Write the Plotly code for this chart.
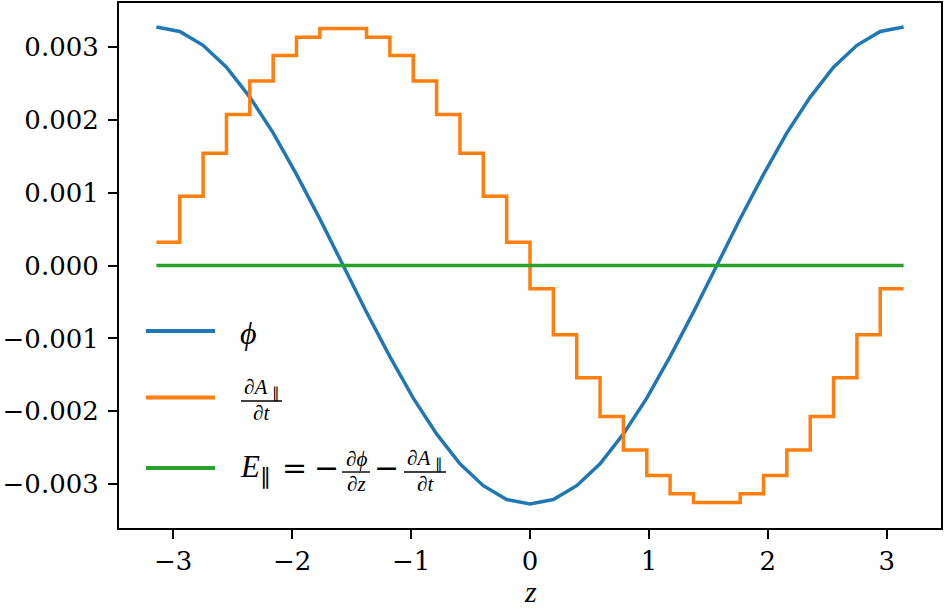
import plotly.graph_objects as go

# z grid (-pi .. pi)
z = [-3.1416, -2.9452, -2.7489, -2.5525, -2.3562, -2.1598, -1.9635, -1.7671,
     -1.5708, -1.3744, -1.1781, -0.9817, -0.7854, -0.5890, -0.3927, -0.1963,
     0.0, 0.1963, 0.3927, 0.5890, 0.7854, 0.9817, 1.1781, 1.3744,
     1.5708, 1.7671, 1.9635, 2.1598, 2.3562, 2.5525, 2.7489, 2.9452, 3.1416]

phi = [0.00327, 0.00321, 0.00302, 0.00272, 0.00231, 0.00182, 0.00125, 0.00064,
       0.0, -0.00064, -0.00125, -0.00182, -0.00231, -0.00272, -0.00302, -0.00321,
       -0.00327, -0.00321, -0.00302, -0.00272, -0.00231, -0.00182, -0.00125, -0.00064,
       0.0, 0.00064, 0.00125, 0.00182, 0.00231, 0.00272, 0.00302, 0.00321, 0.00327]

# step values, one per cell (last one repeated to close the final step)
dA_dt = [0.00032, 0.00095, 0.00154, 0.00207, 0.00253, 0.00288, 0.00313, 0.00325,
         0.00325, 0.00313, 0.00288, 0.00253, 0.00207, 0.00154, 0.00095, 0.00032,
         -0.00032, -0.00095, -0.00154, -0.00207, -0.00253, -0.00288, -0.00313, -0.00325,
         -0.00325, -0.00313, -0.00288, -0.00253, -0.00207, -0.00154, -0.00095, -0.00032,
         -0.00032]

E_par = [0.0] * 33

x_ticks = [-3, -2, -1, 0, 1, 2, 3]
x_ticktext = ["−3", "−2", "−1", "0", "1", "2", "3"]
y_ticks = [-0.003, -0.002, -0.001, 0.0, 0.001, 0.002, 0.003]
y_ticktext = ["−0.003", "−0.002", "−0.001", "0.000", "0.001", "0.002", "0.003"]

AZUL = "#1f77b4"
LARANJA = "#ff7f0e"
VERDE = "#2ca02c"
FONTE = "DejaVu Serif"
FONTE_MAT = "Liberation Serif"

W, H = 945, 609
ML, MR, MT, MB = 119, 4, 3, 81
PW, PH = W - ML - MR, H - MT - MB


def px(x):
    return (x - ML) / PW


def py(y):
    return (H - MB - y) / PH


fig = go.Figure()
fig.add_trace(go.Scatter(x=z, y=phi, mode="lines", line=dict(color=AZUL, width=3.5)))
fig.add_trace(go.Scatter(x=z, y=dA_dt, mode="lines", line=dict(color=LARANJA, width=3.5, shape="hv")))
fig.add_trace(go.Scatter(x=z, y=E_par, mode="lines", line=dict(color=VERDE, width=3.5)))

# legenda manual (fracoes nao existem no legend do plotly)
shapes = []
annots = []
for cor, yy in [(AZUL, 331), (LARANJA, 397.5), (VERDE, 468)]:
    shapes.append(dict(type="line", xref="paper", yref="paper",
                       x0=px(146), x1=px(215), y0=py(yy), y1=py(yy),
                       line=dict(color=cor, width=3.8)))


def texto(t, x, y, size, anchor="left", fonte=FONTE_MAT):
    annots.append(dict(text=t, xref="paper", yref="paper", x=px(x), y=py(y),
                       xanchor=anchor, yanchor="middle", showarrow=False,
                       font=dict(family=fonte, size=size, color="black")))


def fracao(num, den, x0, x1, ybar, size=21):
    cx = (x0 + x1) / 2
    texto(num, cx, ybar - 13, size, "center")
    texto(den, cx, ybar + 12, size, "center")
    shapes.append(dict(type="line", xref="paper", yref="paper",
                       x0=px(x0), x1=px(x1), y0=py(ybar), y1=py(ybar),
                       line=dict(color="black", width=1.4)))


PAR = "<sub>∥</sub>"
texto("<i>ϕ</i>", 238, 333, 32)
fracao("<i>∂A</i> " + PAR, "<i>∂t</i>", 241, 282, 401)
texto("<i>E</i>" + PAR, 238, 469, 31)
texto("=", 294, 467, 30, "center", FONTE)
texto("−", 326, 467, 30, "center", FONTE)
fracao("<i>∂ϕ</i>", "<i>∂z</i>", 342, 370, 472)
texto("−", 386, 467, 30, "center", FONTE)
fracao("<i>∂A</i> " + PAR, "<i>∂t</i>", 404, 446, 472)
texto("<i>z</i>", 530, 591, 30, "center")

fig.update_layout(
    width=W, height=H,
    margin=dict(l=ML, r=MR, t=MT, b=MB, autoexpand=False),
    plot_bgcolor="white", paper_bgcolor="white",
    showlegend=False,
    font=dict(family=FONTE, size=26, color="black"),
    shapes=shapes, annotations=annots,
)
fig.update_xaxes(
    range=[-3.456, 3.456], tickvals=x_ticks, ticktext=x_ticktext,
    ticks="outside", ticklen=9, tickwidth=2, tickcolor="black",
    showline=True, linecolor="black", linewidth=2, mirror=True,
    showgrid=False, zeroline=False, automargin=False,
)
fig.update_yaxes(
    range=[-0.0036, 0.0036], tickvals=y_ticks, ticktext=y_ticktext,
    ticks="outside", ticklen=9, tickwidth=2, tickcolor="black",
    showline=True, linecolor="black", linewidth=2, mirror=True,
    showgrid=False, zeroline=False, automargin=False, ticklabelstandoff=4,
)

# tira a margem padrao do <body> para a figura ocupar a janela toda
fig.write_html("out.html", config={"displayModeBar": False},
               post_script="document.body.style.margin='0';")
